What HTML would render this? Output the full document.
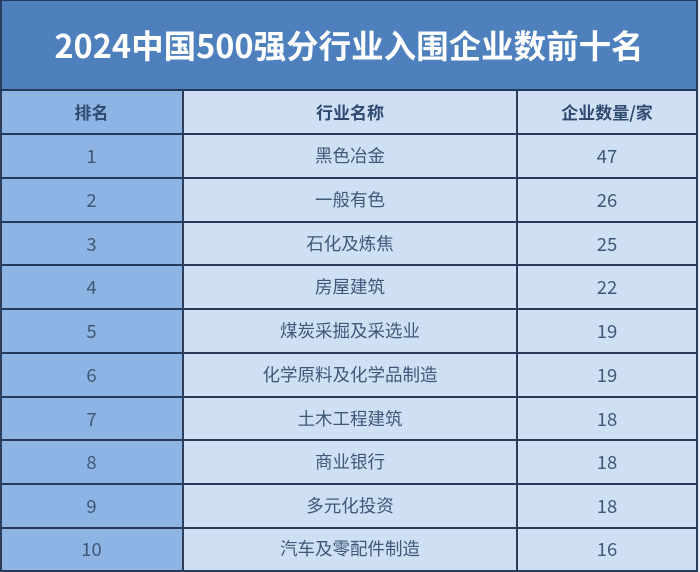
<!DOCTYPE html>
<html><head><meta charset="utf-8">
<style>
html,body{margin:0;padding:0;background:#e8ecf2;}
#w{position:relative;width:700px;height:572px;overflow:hidden;background:#e6e9ee;font-family:"Liberation Sans","Noto Sans CJK SC",sans-serif;}
#title{position:absolute;left:0;top:0;width:698px;height:90px;background:#4f80be;color:#fff;font-weight:bold;font-size:32.5px;line-height:90px;text-align:center;letter-spacing:0px;font-family:"Noto Sans CJK SC",sans-serif;}
.c1{position:absolute;left:0;width:183px;background:#8db4e2;}
.c2{position:absolute;left:183px;width:515px;background:#cfe0f5;}
.hl{position:absolute;left:0;width:698px;height:2px;background:#27395a;}
.vl{position:absolute;top:90px;height:482px;width:2px;background:#2c3d5c;}
.t{position:absolute;height:44px;line-height:44px;text-align:center;color:#3f5878;font-size:17.5px;font-family:"Liberation Sans","Noto Sans CJK SC",sans-serif;}
.n{font-size:18.5px;font-family:"Noto Sans CJK SC",sans-serif;}
.h{font-weight:bold;color:#2e4a70;font-size:17px;font-family:"Noto Sans CJK SC",sans-serif;}
</style></head><body>
<div id="w">
<div id="title">2024中国500强分行业入围企业数前十名</div>
<div class="c1" style="top:90px;height:482px"></div>
<div class="c2" style="top:90px;height:482px"></div>

<div class="hl" style="top:89px"></div>
<div class="hl" style="top:133px"></div>
<div class="hl" style="top:177px"></div>
<div class="hl" style="top:221px"></div>
<div class="hl" style="top:264px"></div>
<div class="hl" style="top:308px"></div>
<div class="hl" style="top:352px"></div>
<div class="hl" style="top:396px"></div>
<div class="hl" style="top:439px"></div>
<div class="hl" style="top:483px"></div>
<div class="hl" style="top:527px"></div>
<div class="hl" style="top:570px"></div>

<div class="vl" style="left:182px"></div>
<div class="vl" style="left:516px"></div>
<div class="vl" style="left:0;top:0;height:572px"></div>
<div class="vl" style="left:696px;top:0;height:572px"></div>
<div class="hl" style="top:0;height:1px"></div>

<div class="t h" style="left:0;width:183px;top:90px">排名</div>
<div class="t h" style="left:183px;width:334px;top:90px">行业名称</div>
<div class="t h" style="left:517px;width:180px;top:90px">企业数量/家</div>

<div class="t n" style="left:0;width:183px;top:134px">1</div>
<div class="t" style="left:183px;width:334px;top:134px">黑色冶金</div>
<div class="t n" style="left:517px;width:180px;top:134px">47</div>

<div class="t n" style="left:0;width:183px;top:178px">2</div>
<div class="t" style="left:183px;width:334px;top:178px">一般有色</div>
<div class="t n" style="left:517px;width:180px;top:178px">26</div>

<div class="t n" style="left:0;width:183px;top:222px">3</div>
<div class="t" style="left:183px;width:334px;top:222px">石化及炼焦</div>
<div class="t n" style="left:517px;width:180px;top:222px">25</div>

<div class="t n" style="left:0;width:183px;top:265px">4</div>
<div class="t" style="left:183px;width:334px;top:265px">房屋建筑</div>
<div class="t n" style="left:517px;width:180px;top:265px">22</div>

<div class="t n" style="left:0;width:183px;top:309px">5</div>
<div class="t" style="left:183px;width:334px;top:309px">煤炭采掘及采选业</div>
<div class="t n" style="left:517px;width:180px;top:309px">19</div>

<div class="t n" style="left:0;width:183px;top:353px">6</div>
<div class="t" style="left:183px;width:334px;top:353px">化学原料及化学品制造</div>
<div class="t n" style="left:517px;width:180px;top:353px">19</div>

<div class="t n" style="left:0;width:183px;top:397px">7</div>
<div class="t" style="left:183px;width:334px;top:397px">土木工程建筑</div>
<div class="t n" style="left:517px;width:180px;top:397px">18</div>

<div class="t n" style="left:0;width:183px;top:440px">8</div>
<div class="t" style="left:183px;width:334px;top:440px">商业银行</div>
<div class="t n" style="left:517px;width:180px;top:440px">18</div>

<div class="t n" style="left:0;width:183px;top:484px">9</div>
<div class="t" style="left:183px;width:334px;top:484px">多元化投资</div>
<div class="t n" style="left:517px;width:180px;top:484px">18</div>

<div class="t n" style="left:0;width:183px;top:527px">10</div>
<div class="t" style="left:183px;width:334px;top:527px">汽车及零配件制造</div>
<div class="t n" style="left:517px;width:180px;top:527px">16</div>
</div>
</body></html>
